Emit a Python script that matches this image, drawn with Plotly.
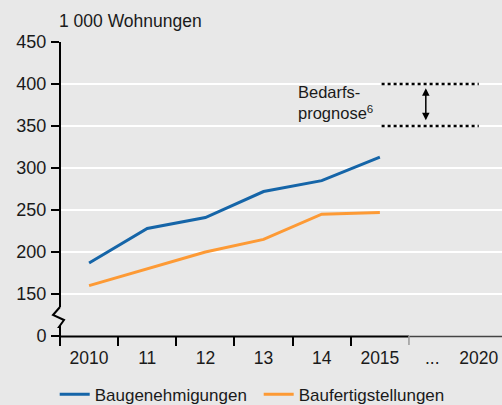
import plotly.graph_objects as go

# ---- data ----
years = ["2010", "11", "12", "13", "14", "2015"]
baugenehmigungen = [187, 228, 241, 272, 285, 313]
baufertigstellungen = [160, 180, 200, 215, 245, 247]
tick_labels = ["2010", "11", "12", "13", "14", "2015", "...", "2020"]
tick_positions = [0.5, 1.5, 2.5, 3.5, 4.5, 5.5, 6.4, 7.2]
boundary_ticks = [0, 1, 2, 3, 4, 5]
forecast_low = 350
forecast_high = 400
y_tickvals = [100, 150, 200, 250, 300, 350, 400, 450]
y_ticktext = ["0", "150", "200", "250", "300", "350", "400", "450"]

BLUE = "#1565a8"
ORANGE = "#fd9a35"
BG = "#e8e8e8"
FONT = "Liberation Sans"
TXT = "#1a1a1a"

xpos = [i + 0.5 for i in range(len(years))]

fig = go.Figure()
fig.add_trace(go.Scatter(x=xpos, y=baugenehmigungen, mode="lines", name="Baugenehmigungen",
                         line=dict(color=BLUE, width=3)))
fig.add_trace(go.Scatter(x=xpos, y=baufertigstellungen, mode="lines", name="Baufertigstellungen",
                         line=dict(color=ORANGE, width=3)))
# forecast band lines (dotted)
for v in (forecast_high, forecast_low):
    fig.add_trace(go.Scatter(x=[5.53, 7.2], y=[v, v], mode="lines", showlegend=False,
                             line=dict(color="black", width=2.5, dash="dot"), hoverinfo="skip"))

# double arrow
fig.add_annotation(x=6.29, y=395, ax=6.29, ay=355, xref="x", yref="y", axref="x", ayref="y",
                   text="", showarrow=True, arrowhead=2, arrowside="end+start",
                   arrowsize=1, arrowwidth=1.5, arrowcolor="black")
fig.add_annotation(x=4.06, y=404, xref="x", yref="y", xanchor="left", yanchor="top",
                   text="Bedarfs-<br>prognose<sup>6</sup>", showarrow=False, align="left",
                   font=dict(family=FONT, size=16.5, color=TXT))
# unit label
fig.add_annotation(x=-0.006, y=1.071, xref="paper", yref="paper", xanchor="left", yanchor="middle",
                   text="1 000 Wohnungen", showarrow=False,
                   font=dict(family=FONT, size=17.5, color=TXT))

# axis lines with break (paper coords)
def py(px):
    return (336 - px) / 294.0

def pxp(dx):
    return dx / 442.0

shapes = []
shapes.append(dict(type="line", xref="paper", yref="paper", x0=0, x1=0, y0=py(307), y1=1.0,
                   line=dict(color="black", width=2)))
zig = (f"M 0 {py(307)} L {pxp(-7)} {py(315)} L {pxp(4)} {py(320)} "
       f"L {pxp(-1)} {py(327)} L 0 {py(327)} L 0 {py(336)}")
shapes.append(dict(type="path", xref="paper", yref="paper", path=zig,
                   line=dict(color="black", width=2)))
# x axis: black part up to 2015, grey part beyond
shapes.append(dict(type="line", xref="paper", yref="paper", x0=pxp(-1), x1=6 / 7.6, y0=py(336.5), y1=py(336.5),
                   line=dict(color="black", width=2)))
shapes.append(dict(type="line", xref="paper", yref="paper", x0=6 / 7.6, x1=1.0, y0=py(336.5), y1=py(336.5),
                   line=dict(color="#444444", width=1.5)))
shapes.append(dict(type="line", xref="paper", yref="paper", x0=6 / 7.6, x1=6 / 7.6, y0=py(336), y1=py(345),
                   line=dict(color="#999999", width=1.5)))
fig.update_layout(shapes=shapes)

fig.update_layout(
    width=502, height=405,
    margin=dict(l=60, r=0, t=42, b=69, autoexpand=False),
    paper_bgcolor=BG, plot_bgcolor=BG,
    font=dict(family=FONT, size=17, color=TXT),
    showlegend=True,
    legend=dict(orientation="h", x=-0.012, xanchor="left", y=-0.2, yanchor="middle",
                bgcolor="rgba(0,0,0,0)", font=dict(size=17), itemwidth=30,
                entrywidth=159, entrywidthmode="pixels",
                tracegroupgap=0),
    xaxis=dict(range=[0, 7.6], tickmode="array", tickvals=tick_positions, ticktext=tick_labels,
               ticks="outside", ticklen=6, tickcolor="rgba(0,0,0,0)", showgrid=False,
               showline=False, zeroline=False,
               tickfont=dict(size=17.5), automargin=False,
               minor=dict(tickmode="array", tickvals=boundary_ticks, ticks="outside",
                          ticklen=9, tickwidth=2, tickcolor="black", showgrid=False)),
    yaxis=dict(range=[100, 450], tickmode="array", tickvals=y_tickvals, ticktext=y_ticktext,
               ticks="outside", ticklen=8, tickwidth=2, tickcolor="black",
               showgrid=True, gridcolor="white", gridwidth=1.5, zeroline=False,
               showline=False, tickfont=dict(size=18), automargin=False,
               ticklabelstandoff=1),
)

fig.write_html("out.html", config={"displayModeBar": False},
               post_script="document.body.style.margin='0';document.body.style.overflow='hidden';")
